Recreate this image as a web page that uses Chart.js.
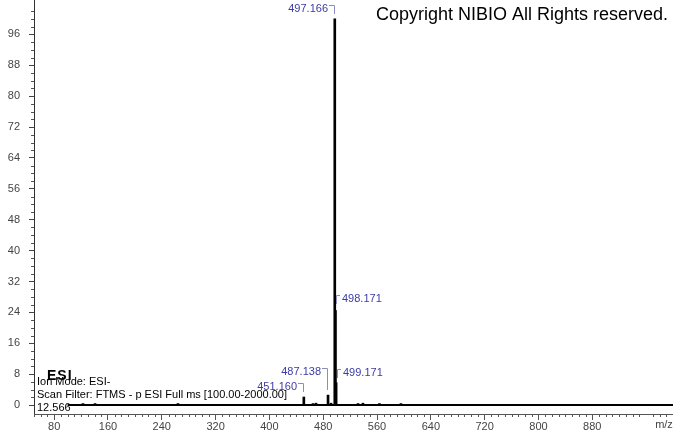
<!DOCTYPE html>
<html>
<head>
<meta charset="utf-8">
<script src="https://cdn.jsdelivr.net/npm/chart.js@4.4.1/dist/chart.umd.min.js"></script>
<style>
  html, body { margin: 0; padding: 0; background: #fff; }
  canvas { display: block; }
</style>
</head>
<body>
<canvas id="espectro" width="673" height="433"></canvas>
<script>
// picos (m/z) y abundancia relativa (%)
var picosMz = [122.8, 140.7, 264.0, 451.160, 464.8, 469.3, 487.138, 491.6, 497.166, 498.171, 499.171, 531.7, 539.0, 563.5, 595.6];
var picosInt = [0.4, 0.4, 0.4, 2.1, 0.4, 0.5, 2.6, 0.5, 100, 24.5, 5.8, 0.4, 0.5, 0.4, 0.4];

// picos etiquetados
var etiquetasMz = [497.166, 498.171, 499.171, 487.138, 451.160];
var etiquetasLado = ['left', 'right', 'right', 'left', 'left'];

// rango de barrido (línea base)
var rangoBase = [100, 1000];

var ticksX = [80, 160, 240, 320, 400, 480, 560, 640, 720, 800, 880];
var ticksY = [0, 8, 16, 24, 32, 40, 48, 56, 64, 72, 80, 88, 96];

var textosInfo = ['Ion Mode: ESI-', 'Scan Filter: FTMS - p ESI Full ms [100.00-2000.00]', '12.566'];

var fuente = '"Liberation Sans", Arial, sans-serif';

var pluginExtras = {
    id: 'extras',
    afterDraw: function(chart) {
        var ctx = chart.ctx;
        var x = chart.scales.x, y = chart.scales.y;
        var area = chart.chartArea;
        ctx.save();

        // marcas menores
        ctx.strokeStyle = '#555';
        ctx.lineWidth = 1;
        ctx.beginPath();
        for (var v = 50; v <= 1000; v += 10) {
            if (v % 80 === 0) continue;
            var px = Math.round(x.getPixelForValue(v)) + 0.5;
            ctx.moveTo(px, area.bottom);
            ctx.lineTo(px, area.bottom + 3);
        }
        for (var w = 2; w <= 104; w += 2) {
            if (w % 8 === 0) continue;
            var py = Math.round(y.getPixelForValue(w)) + 0.5;
            ctx.moveTo(area.left, py);
            ctx.lineTo(area.left - 3, py);
        }
        ctx.stroke();

        // etiquetas de picos
        ctx.font = '11px ' + fuente;
        ctx.textBaseline = 'middle';
        var desplaz = [-10, -12, -10, -23, -10];
        etiquetasMz.forEach(function(mz, i) {
            var idx = picosMz.indexOf(mz);
            var px = Math.round(x.getPixelForValue(mz));
            var top = y.getPixelForValue(picosInt[idx]);
            var ly = Math.round(top + desplaz[i]);
            ctx.strokeStyle = '#8c8cc4';
            ctx.beginPath();
            if (etiquetasLado[i] === 'left') {
                ctx.moveTo(px - 6, ly - 3.5);
                ctx.lineTo(px - 0.5, ly - 3.5);
                ctx.lineTo(px - 0.5, Math.max(ly + 4, top - 5));
                ctx.stroke();
                ctx.fillStyle = '#3b3ba6';
                ctx.textAlign = 'right';
                ctx.fillText(mz.toFixed(3), px - 7, ly);
            } else {
                ctx.moveTo(px + 5, ly - 3.5);
                ctx.lineTo(px + 1.5, ly - 3.5);
                ctx.lineTo(px + 1.5, ly + 5);
                ctx.stroke();
                ctx.fillStyle = '#3b3ba6';
                ctx.textAlign = 'left';
                ctx.fillText(mz.toFixed(3), px + 7, ly);
            }
        });

        // textos
        ctx.fillStyle = '#000';
        ctx.textAlign = 'left';
        ctx.font = '18px ' + fuente;
        ctx.fillText('Copyright NIBIO All Rights reserved.', 376, 15);
        ctx.font = 'bold 14px ' + fuente;
        ctx.letterSpacing = '1px';
        ctx.fillText('ESI', 47, 376);
        ctx.letterSpacing = '0px';
        ctx.font = '11px ' + fuente;
        ctx.fillText(textosInfo[0], 37, 382);
        ctx.fillText(textosInfo[1], 37, 395);
        ctx.fillText(textosInfo[2], 37, 408);

        ctx.fillStyle = '#444';
        ctx.textAlign = 'center';
        ctx.fillText('m/z', 664, 425);
        ctx.restore();
    }
};

var ctx = document.getElementById('espectro').getContext('2d');
new Chart(ctx, {
    type: 'bar',
    data: {
        datasets: [{
            type: 'line',
            data: rangoBase.map(function(m) { return { x: m, y: 0 }; }),
            borderColor: '#000',
            borderWidth: 2,
            pointRadius: 0
        }, {
            type: 'bar',
            data: picosMz.map(function(m, i) { return { x: m, y: picosInt[i] }; }),
            backgroundColor: '#000',
            borderWidth: 0,
            barThickness: 2
        }]
    },
    plugins: [pluginExtras],
    options: {
        responsive: false,
        animation: false,
        layout: { padding: 0 },
        plugins: { legend: { display: false }, tooltip: { enabled: false } },
        scales: {
            x: {
                type: 'linear',
                min: 50,
                max: 1000,
                offset: false,
                afterBuildTicks: function(s) { s.ticks = ticksX.map(function(v) { return { value: v }; }); },
                afterFit: function(s) { s.height = 19; s.paddingLeft = 0; s.paddingRight = 0; },
                grid: { drawOnChartArea: false, tickLength: 6, color: '#555', offset: false },
                border: { color: '#555' },
                ticks: { color: '#444', font: { family: fuente, size: 11 }, padding: 0, maxRotation: 0, autoSkip: false }
            },
            y: {
                min: -2.3,
                max: 104.9,
                afterBuildTicks: function(s) { s.ticks = ticksY.map(function(v) { return { value: v }; }); },
                afterFit: function(s) { s.width = 34; s.paddingTop = 0; s.paddingBottom = 0; },
                grid: { drawOnChartArea: false, tickLength: 5, color: '#444' },
                border: { color: '#333' },
                ticks: { color: '#444', font: { family: fuente, size: 11 }, padding: 9 }
            }
        }
    }
});
</script>
</body>
</html>
